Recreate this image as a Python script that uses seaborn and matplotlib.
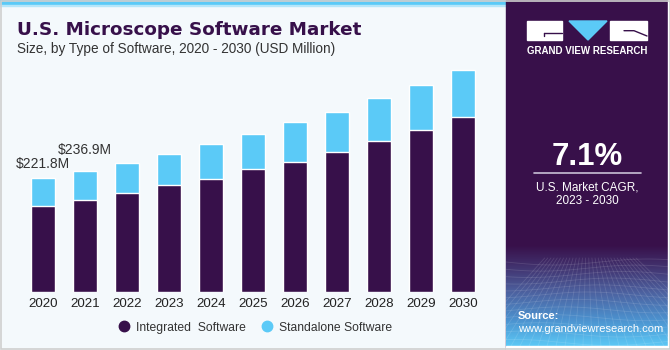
import numpy as np
import pandas as pd
import matplotlib
matplotlib.use("Agg")
import matplotlib.pyplot as plt
from matplotlib.patches import Rectangle, Polygon
from matplotlib.lines import Line2D
from matplotlib.colors import LinearSegmentedColormap
import seaborn as sns

# values (USD million)
years = ['2020', '2021', '2022', '2023', '2024', '2025', '2026', '2027', '2028', '2029', '2030']
integrated = [168, 179, 194, 208, 221, 239, 254, 274, 295, 317, 341]
standalone = [53.8, 57.9, 57, 62, 67, 69, 77, 78, 84, 86, 93]
total_labels = {'2020': '$221.8M', '2021': '$236.9M'}
label_heights = {'2020': 242, '2021': 269}

DARK = '#37104a'
BLUE = '#5bcaf7'
BG = '#f4f9fc'

df = pd.DataFrame({'year': years, 'integrated': integrated, 'standalone': standalone})
df['total'] = df['integrated'] + df['standalone']

sns.set_theme(style='white')
plt.rcParams['font.family'] = ['Liberation Sans', 'DejaVu Sans']

W, H = 670, 350
fig = plt.figure(figsize=(6.7, 3.5), dpi=100)
fig.patch.set_facecolor('white')

# background layer in pixel coordinates
bg = fig.add_axes([0, 0, 1, 1], zorder=-1)
bg.add_patch(Rectangle((0, 0), 506, 350, color=BG, zorder=0))
bg.add_patch(Rectangle((0, 0), 506, 5, color=BLUE, zorder=1))
bg.add_patch(Rectangle((0, 5), 506, 1.2, color='#b5e6fa', zorder=1))

# right panel
bg.add_patch(Rectangle((506, 0), 162, 350, color='#38104a', zorder=1))
cmap = LinearSegmentedColormap.from_list('panel', [
    (0.0, '#38104a'), (0.2, '#41306c'), (0.45, '#4c5e9c'),
    (0.75, '#4c93d0'), (1.0, '#5cc8f5')])
grad = np.linspace(0, 1, 200).reshape(-1, 1)
bg.imshow(grad, extent=(506, 668, 346, 245), cmap=cmap, aspect='auto', zorder=2)

# faint mesh in the gradient area
for k in range(14):
    yy = 262 + 6 * k + 0.12 * k * k
    xs = np.linspace(506, 668, 40)
    bg.plot(xs, yy + 3 * np.sin((xs - 506) / 30.0 + k * 0.4), color='white', alpha=0.12, lw=0.6, zorder=3)
for k in range(-6, 24):
    x0 = 520 + 9 * k
    bg.plot([587 + (x0 - 587) * 0.35, x0], [258, 346], color='white', alpha=0.12, lw=0.6, zorder=3)
bg.add_patch(Rectangle((506, 346), 164, 4, color='white', zorder=4))
bg.add_patch(Rectangle((668, 0), 2, 350, color='white', zorder=4))

# logo
bg.add_patch(Rectangle((527, 21), 35, 19, color='white', zorder=5))
bg.plot([544, 562], [32.5, 32.5], color=DARK, lw=1, zorder=6)
bg.plot([544, 544], [32.5, 36], color=DARK, lw=1, zorder=6)
bg.add_patch(Polygon([(569, 21), (607, 21), (588, 40)], color=BLUE, zorder=5))
bg.add_patch(Rectangle((610, 21), 37, 19, color='white', zorder=5))
bg.plot([624, 634, 647], [30.7, 30.7, 36], color=DARK, lw=1, zorder=6)
bg.text(587, 51, 'GRAND VIEW RESEARCH', color='white', fontsize=7, fontweight='bold',
        ha='center', va='center', zorder=6)

bg.text(587, 165, '7.1%', color='white', fontsize=22.5, fontweight='bold',
        ha='center', va='baseline', zorder=6)
bg.plot([534, 641], [173.3, 173.3], color='#c9c0d6', lw=1.2, zorder=6)
bg.text(587, 190, 'U.S. Market CAGR,', color='white', fontsize=8.5, ha='center', va='baseline', zorder=6)
bg.text(587, 204, '2023 - 2030', color='white', fontsize=8.5, ha='center', va='baseline', zorder=6)
bg.text(518, 319, 'Source:', color='white', fontsize=8, fontweight='bold', ha='left', va='baseline', zorder=6)
bg.text(518, 331.7, 'www.grandviewresearch.com', color='white', fontsize=8, ha='left', va='baseline', zorder=6)

# titles
bg.text(17, 35, 'U.S. Microscope Software Market', color=DARK, fontsize=13.2, fontweight='bold',
        family='DejaVu Sans', ha='left', va='baseline', zorder=6)
bg.text(17, 52.5, 'Size, by Type of Software, 2020 - 2030 (USD Million)', color='#333333', fontsize=9.8,
        ha='left', va='baseline', zorder=6)

# outer border
bg.add_patch(Rectangle((0.5, 0.5), 669, 348, fill=False, edgecolor='#cfcfcf', lw=1.2, zorder=7))
bg.set_xlim(0, W)
bg.set_ylim(H, 0)
bg.axis('off')

# chart axes
ax = fig.add_axes([22 / W, 58 / H, 462 / W, 232 / H])
ax.set_facecolor('none')
sns.barplot(data=df, x='year', y='total', color=BLUE, width=0.58, saturation=1, ax=ax)
sns.barplot(data=df, x='year', y='integrated', color=DARK, width=0.58, saturation=1, ax=ax)
ax.set_xlim(-0.5, 10.5)
ax.set_ylim(0, 452.6)
for i, yr in enumerate(years):
    if yr in total_labels:
        ax.text(i, label_heights[yr], total_labels[yr], ha='center', va='baseline',
                fontsize=10, color='#333333')
ax.set_xlabel('')
ax.set_ylabel('')
ax.set_yticks([])
ax.tick_params(axis='x', length=0, pad=4, labelsize=9.6, labelcolor='#222222')
sns.despine(ax=ax, left=True, bottom=True)

handles = [
    Line2D([], [], marker='o', linestyle='', markersize=7.5, color=DARK),
    Line2D([], [], marker='o', linestyle='', markersize=7.5, color=BLUE),
]
fig.legend(handles, ['Integrated  Software', 'Standalone Software'], loc='center left',
           bbox_to_anchor=(119.2 / W, 1 - 327.7 / H), ncol=2, frameon=False, fontsize=8.7,
           handlelength=0.8, handletextpad=0.59, columnspacing=1.34, borderpad=0,
           borderaxespad=0, labelcolor='#333333')

fig.savefig('out.png', dpi=100)
